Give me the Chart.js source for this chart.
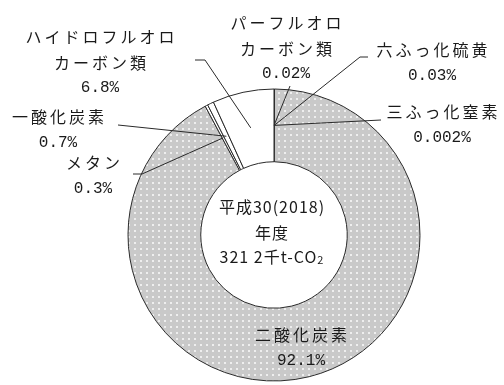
<!DOCTYPE html>
<html>
<head>
<meta charset="utf-8">
<script src="https://cdn.jsdelivr.net/npm/chart.js@4/dist/chart.umd.min.js"></script>
<style>
html,body{margin:0;padding:0;background:#fff;}
#c{display:block;}
</style>
</head>
<body>
<canvas id="c" width="504" height="385"></canvas>
<script>
// ---- data ----
const categories = ['パーフルオロカーボン類','六ふっ化硫黄','三ふっ化窒素','二酸化炭素','メタン','一酸化炭素','ハイドロフルオロカーボン類'];
const shares = [0.02, 0.03, 0.002, 92.1, 0.3, 0.7, 6.8];
const shareLabels = ['0.02%','0.03%','0.002%','92.1%','0.3%','0.7%','6.8%'];
const nameLines = [['パーフルオロ','カーボン類'],['六ふっ化硫黄'],['三ふっ化窒素'],['二酸化炭素'],['メタン'],['一酸化炭素'],['ハイドロフルオロ','カーボン類']];
const centerLines = ['平成30(2018)','年度','321 2千t-CO'];
const centerSub = '2';

// ---- layout / styles ----
const labelLayout = [
  {x:286, y:23, leader:[[290,86]]},
  {x:432, y:50, leader:[[368,57],[360,57]]},
  {x:442, y:112, leader:[[381,120]]},
  {x:301, y:335, leader:null},
  {x:93, y:163, leader:[[133,174],[142,174]]},
  {x:58, y:117, leader:[[118,125]]},
  {x:100, y:37, leader:[[195,60],[205,60]]}
];
const lineGap = 25.5;

function makePattern(){
  const c = document.createElement('canvas');
  c.width = 6; c.height = 6;
  const x = c.getContext('2d');
  x.fillStyle = '#c9c9c9'; x.fillRect(0,0,6,6);
  x.fillStyle = '#eeeeee'; x.fillRect(2,2,2,2);
  return x.createPattern(c,'repeat');
}
const dots = makePattern();
const fills = [dots, dots, dots, dots, '#ffffff', '#ffffff', '#ffffff'];

const labelPlugin = {
  id:'labels',
  afterDatasetsDraw(chart){
    const ctx = chart.ctx;
    const arcs = chart.getDatasetMeta(0).data;
    ctx.save();
    // leader lines
    ctx.strokeStyle = '#2a2a2a';
    ctx.lineWidth = 1;
    arcs.forEach((arc,i)=>{
      const L = labelLayout[i];
      if(!L.leader) return;
      const a = arc.getCenterPoint();
      ctx.beginPath();
      ctx.moveTo(L.leader[0][0], L.leader[0][1]);
      for(let k=1;k<L.leader.length;k++) ctx.lineTo(L.leader[k][0], L.leader[k][1]);
      ctx.lineTo(a.x, a.y);
      ctx.stroke();
    });
    // labels
    ctx.fillStyle = '#1a1a1a';
    ctx.textAlign = 'center';
    ctx.textBaseline = 'middle';
    categories.forEach((c,i)=>{
      const L = labelLayout[i];
      let y = L.y;
      ctx.font = '16px "Noto Sans CJK JP"';
      ctx.letterSpacing = '3px';
      nameLines[i].forEach(t=>{ ctx.fillText(t, L.x+1.5, y); y += lineGap; });
      ctx.font = '16px "Liberation Mono"';
      ctx.letterSpacing = '0px';
      ctx.fillText(shareLabels[i], L.x, y);
    });
    // center text
    const arc0 = arcs[0];
    const cx = arc0.x, cy = arc0.y;
    ctx.font = '16px "Noto Sans CJK JP"';
    ctx.letterSpacing = '1px';
    ctx.fillText(centerLines[0], cx-2, cy-28);
    ctx.fillText(centerLines[1], cx-2, cy-2);
    const w = ctx.measureText(centerLines[2]).width;
    ctx.font = '11px "Noto Sans CJK JP"';
    const ws = ctx.measureText(centerSub).width;
    const total = w + ws;
    const x0 = cx - 2 - total/2;
    ctx.textAlign = 'left';
    ctx.font = '16px "Noto Sans CJK JP"';
    ctx.fillText(centerLines[2], x0, cy+22);
    ctx.font = '11px "Noto Sans CJK JP"';
    ctx.fillText(centerSub, x0 + w, cy+25);
    ctx.restore();
  }
};

new Chart(document.getElementById('c'), {
  type:'doughnut',
  data:{
    labels: categories,
    datasets:[{
      data: shares,
      backgroundColor: fills,
      borderColor: '#2a2a2a',
      borderWidth: 1
    }]
  },
  options:{
    responsive:false,
    animation:false,
    radius:146,
    cutout:73,
    layout:{padding:{left:128,right:84,top:89,bottom:4}},
    plugins:{legend:{display:false}, tooltip:{enabled:false}}
  },
  plugins:[labelPlugin]
});
</script>
</body>
</html>
